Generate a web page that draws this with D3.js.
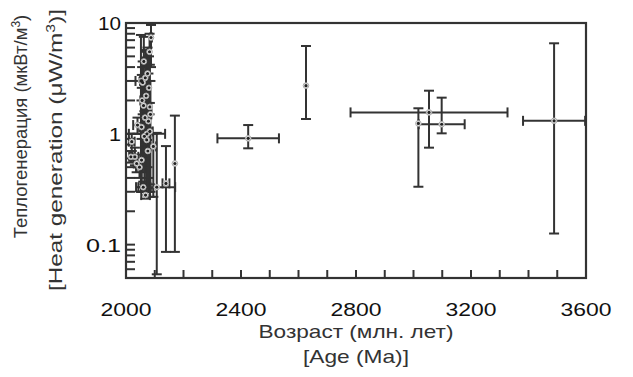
<!DOCTYPE html>
<html><head><meta charset="utf-8">
<script src="https://cdn.jsdelivr.net/npm/d3@7"></script>
<style>body{margin:0;background:#fff}svg{display:block}</style>
</head><body>
<svg id="c" width="633" height="377"></svg>
<script>
// Age (Ma), age error, heat generation (µW/m3), lower and upper bounds
const ages   = [2087,2082,2052,2070,2055,2083,2066,2054,2083,2073,2072,2095,2031,2037,2054,2017,2060,2058,2062,2078,2040,2020,2056,2061,2064,2076,2047,2068,2075,2080,2067,2085,
                2107,2139,2170,2425,2626,3017,3054,3098,3489];
const ageErr = [3,3,3,4,22,5,5,8,10,63,8,10,12,10,10,6,25,4,4,4,15,10,6,6,10,6,12,15,3,3,3,3,
                64,12,0,107,0,0,273,80,108];
const heat   = [7.4,5.5,3.0,2.2,3.0,1.75,1.4,1.15,1.05,1.0,0.88,0.77,0.62,0.54,0.58,0.62,0.33,2.9,4.5,1.3,1.2,0.85,2.0,1.8,0.95,0.7,0.5,0.28,3.5,2.6,3.2,1.5,
                0.33,0.357,0.54,0.91,2.72,1.24,1.56,1.22,1.31];
const heatLo = [4.0,1.5,0.30,0.28,2.6,0.35,0.45,0.30,0.27,0.88,0.30,0.27,0.52,0.45,0.30,0.55,0.30,1.5,1.0,0.30,1.0,0.7,0.5,0.6,0.35,0.32,0.4,0.26,0.5,0.4,0.8,0.3,
                0.054,0.086,0.086,0.74,1.36,0.333,0.75,1.01,0.126];
const heatHi = [9.6,8.0,7.8,5.7,3.4,4.2,2.6,2.0,1.9,1.12,1.4,1.0,0.75,0.65,0.9,0.70,0.37,4.5,7.5,3.5,1.4,1.0,4.0,3.2,1.6,1.1,0.6,0.3,6.0,5.0,5.5,3.0,
                1.02,0.775,1.46,1.2,6.2,1.70,2.45,2.12,6.56];
const xTicks = [2000,2400,2800,3200,3600];
const xMinor = [2100,2200,2300,2400,2500,2600,2700,2800,2900,3000,3100,3200,3300,3400,3500];
const yTickLabels = ["0.1","1","10"];
const yTickValues = [0.1,1,10];
const yMinor = [0.05,0.06,0.07,0.08,0.09,0.1,0.2,0.3,0.4,0.5,0.6,0.7,0.8,0.9,1,2,3,4,5,6,7,8,9];

const svg = d3.select("#c");
const L=126,R=586,T=23,B=278;
const x = d3.scaleLinear().domain([2000,3600]).range([L,R]);
const y = d3.scaleLog().domain([0.05,10]).range([B,T]);
const font = "'Liberation Sans', Arial, sans-serif";
const dark = "#333";

const g = svg.append("g").attr("stroke",dark).attr("stroke-width",2).attr("fill","none");
// frame + inside ticks
g.append("rect").attr("x",L).attr("y",T).attr("width",R-L).attr("height",B-T).attr("stroke-width",2.2);
xMinor.forEach(d=>{
  g.append("line").attr("x1",x(d)).attr("x2",x(d)).attr("y1",B).attr("y2",B-8);
});
yMinor.forEach(d=>{
  g.append("line").attr("x1",L).attr("x2",L+9).attr("y1",y(d)).attr("y2",y(d));
});

// error bars
const idx = d3.range(ages.length);
const cap = 5;
idx.forEach(i=>{
  const cx=x(ages[i]), cy=y(heat[i]);
  const y1=y(heatHi[i]), y2=y(heatLo[i]);
  g.append("line").attr("x1",cx).attr("x2",cx).attr("y1",y1).attr("y2",y2);
  g.append("line").attr("x1",cx-cap).attr("x2",cx+cap).attr("y1",y1).attr("y2",y1);
  g.append("line").attr("x1",cx-cap).attr("x2",cx+cap).attr("y1",y2).attr("y2",y2);
  if(ageErr[i]>0){
    const xa=x(ages[i]-ageErr[i]), xb=x(ages[i]+ageErr[i]);
    g.append("line").attr("x1",xa).attr("x2",xb).attr("y1",cy).attr("y2",cy);
    g.append("line").attr("x1",xa).attr("x2",xa).attr("y1",cy-cap).attr("y2",cy+cap);
    g.append("line").attr("x1",xb).attr("x2",xb).attr("y1",cy-cap).attr("y2",cy+cap);
  }
});
// markers
const m = svg.append("g");
m.selectAll("circle.o").data(idx).join("circle").attr("class","o")
  .attr("cx",i=>x(ages[i])).attr("cy",i=>y(heat[i])).attr("r",2.8)
  .attr("fill","#eee").attr("stroke","#aaa").attr("stroke-width",1);
m.selectAll("circle.d").data(idx).join("circle").attr("class","d")
  .attr("cx",i=>x(ages[i])).attr("cy",i=>y(heat[i])).attr("r",1.6).attr("fill","#222");

// tick labels
svg.append("g").selectAll("text").data(xTicks).join("text")
  .attr("x",d=>x(d)).attr("y",316).attr("text-anchor","middle")
  .attr("font-family",font).attr("font-size",19).attr("fill","#111")
  .attr("textLength",51).attr("lengthAdjust","spacingAndGlyphs").text(d=>d);
svg.append("g").selectAll("text").data(yTickValues).join("text")
  .attr("x",121).attr("y",d=>y(d)+7).attr("text-anchor","end")
  .attr("font-family",font).attr("font-size",19).attr("fill","#111")
  .attr("textLength",(d,i)=>[35,12,23][i]).attr("lengthAdjust","spacingAndGlyphs")
  .text((d,i)=>yTickLabels[i]);

// axis titles
svg.append("text").attr("x",(L+R)/2).attr("y",338).attr("text-anchor","middle")
  .attr("font-family",font).attr("font-size",19).attr("fill","#333")
  .attr("textLength",195).attr("lengthAdjust","spacingAndGlyphs").text("Возраст (млн. лет)");
svg.append("text").attr("x",(L+R)/2).attr("y",363).attr("text-anchor","middle")
  .attr("font-family",font).attr("font-size",19).attr("fill","#333")
  .attr("textLength",106).attr("lengthAdjust","spacingAndGlyphs").text("[Age (Ma)]");

const t1 = svg.append("text").attr("transform","translate(27,126.5) rotate(-90)").attr("text-anchor","middle")
  .attr("font-family",font).attr("font-size",18.5).attr("fill","#333");
t1.append("tspan").text("Теплогенерация (мкВт/м");
t1.append("tspan").attr("font-size",12).attr("dy",-7).text("3");
t1.append("tspan").attr("dy",7).text(")");
const t2 = svg.append("text").attr("transform","translate(62,150) rotate(-90)").attr("text-anchor","middle")
  .attr("font-family",font).attr("font-size",18.5).attr("fill","#333")
  .attr("textLength",282).attr("lengthAdjust","spacingAndGlyphs");
t2.append("tspan").text("[Heat generation (μW/m");
t2.append("tspan").attr("font-size",12).attr("dy",-7).text("3");
t2.append("tspan").attr("dy",7).text(")]");
</script>
</body></html>
